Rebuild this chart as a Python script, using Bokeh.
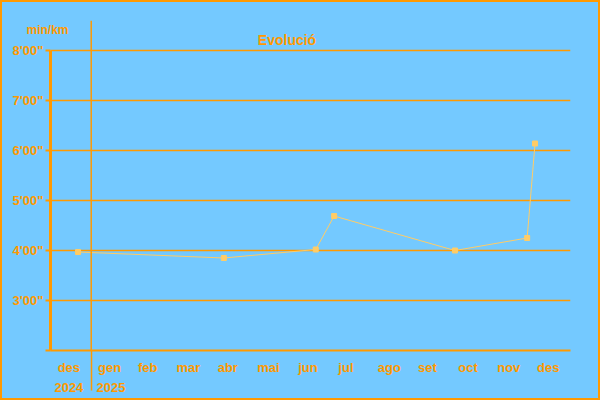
import pandas as pd
from bokeh.plotting import figure
from bokeh.models import (Range1d, FixedTicker, CustomJSTickFormatter, LinearAxis,
                          Span, Label, ColumnDataSource)
from bokeh.embed import file_html
from bokeh.resources import INLINE

# ---- data ----
run_dates = ["2024-12-22", "2025-04-12", "2025-06-21", "2025-07-05",
             "2025-10-05", "2025-11-29", "2025-12-05"]
pace_min_km = [3.97, 3.85, 4.02, 4.69, 4.00, 4.25, 6.14]

month_tick_dates = ["2024-12-15", "2025-01-15", "2025-02-13", "2025-03-16",
                    "2025-04-15", "2025-05-16", "2025-06-15", "2025-07-14",
                    "2025-08-16", "2025-09-14", "2025-10-15", "2025-11-15",
                    "2025-12-15"]
month_labels = ["des", "gen", "feb", "mar", "abr", "mai", "jun", "jul",
                "ago", "set", "oct", "nov", "des"]
year_tick_dates = ["2024-12-15", "2025-01-16"]
year_labels = ["2024", "2025"]
year_boundary = "2025-01-01"
x_start, x_end = "2024-12-01", "2026-01-01"

y_ticks = [2, 3, 4, 5, 6, 7, 8]
y_labels = ["", "3'00\"", "4'00\"", "5'00\"", "6'00\"", "7'00\"", "8'00\""]

title_text = "Evolució"
unit_text = "min/km"
unit_pos = [8.41]

# ---- style ----
BLUE = "#74C9FF"
ORANGE = "#FF9900"
LIGHT = "#FFCC66"
FONT = "Liberation Sans"


def ms(d):
    return pd.Timestamp(d).value / 1e6


src = ColumnDataSource(dict(date=[pd.Timestamp(d) for d in run_dates], pace=pace_min_km))

p = figure(width=600, height=400, x_axis_type="datetime",
           x_range=Range1d(ms(x_start), ms(x_end)), y_range=Range1d(2, 8.6),
           output_backend="svg", toolbar_location=None,
           min_border_left=50, min_border_right=30, min_border_top=20, min_border_bottom=50,
           background_fill_color=None, border_fill_color=None, outline_line_color=None,
           styles={"background-color": BLUE, "outline": "2px solid " + ORANGE, "outline-offset": "-2px"})

JS = "const i = pos.indexOf(tick); return i < 0 ? '' : labels[i];"

# x axis (months)
xa = p.xaxis[0]
xa.ticker = FixedTicker(ticks=[ms(d) for d in month_tick_dates], minor_ticks=[ms(year_boundary)])
xa.formatter = CustomJSTickFormatter(args=dict(pos=[ms(d) for d in month_tick_dates], labels=month_labels), code=JS)
xa.axis_line_color = ORANGE
xa.axis_line_width = 2
xa.major_tick_line_color = None
xa.major_tick_out = 0
xa.major_tick_in = 0
xa.minor_tick_line_color = ORANGE
xa.minor_tick_line_width = 1.5
xa.minor_tick_out = 40
xa.minor_tick_in = 0
xa.major_label_standoff = -31
xa.major_label_text_color = ORANGE
xa.major_label_text_font = FONT
xa.major_label_text_font_style = "bold"
xa.major_label_text_font_size = "13px"

# second axis (years)
ya_years = LinearAxis(ticker=FixedTicker(ticks=[ms(d) for d in year_tick_dates]),
                      formatter=CustomJSTickFormatter(args=dict(pos=[ms(d) for d in year_tick_dates], labels=year_labels), code=JS),
                      axis_line_color=None, major_tick_line_color=None, minor_tick_line_color=None,
                      major_tick_out=0, major_tick_in=0, major_label_standoff=5,
                      major_label_text_color=ORANGE, major_label_text_font=FONT,
                      major_label_text_font_style="bold", major_label_text_font_size="13px")
p.add_layout(ya_years, "below")

# y axis
ya = p.yaxis[0]
ya.ticker = FixedTicker(ticks=y_ticks)
ya.formatter = CustomJSTickFormatter(args=dict(pos=y_ticks, labels=y_labels), code=JS)
ya.bounds = (2, 8)
ya.axis_line_color = ORANGE
ya.axis_line_width = 3
ya.major_tick_line_color = ORANGE
ya.major_tick_line_width = 2
ya.major_tick_out = 5
ya.major_tick_in = 0
ya.minor_tick_line_color = None
ya.major_label_standoff = 2
ya.major_label_text_color = ORANGE
ya.major_label_text_font = FONT
ya.major_label_text_font_style = "bold"
ya.major_label_text_font_size = "13px"

# unit caption as an extra (line-less) left axis
unit_axis = LinearAxis(ticker=FixedTicker(ticks=unit_pos),
                       formatter=CustomJSTickFormatter(args=dict(pos=unit_pos, labels=[unit_text]), code=JS),
                       axis_line_color=None, major_tick_line_color=None, minor_tick_line_color=None,
                       major_tick_out=0, major_tick_in=0, major_label_standoff=-59,
                       major_label_text_color=ORANGE, major_label_text_font=FONT,
                       major_label_text_font_style="bold", major_label_text_font_size="12px")
p.add_layout(unit_axis, "left")

p.ygrid.grid_line_color = ORANGE
p.ygrid.grid_line_width = 1.5
p.xgrid.grid_line_color = None

p.add_layout(Span(location=ms(year_boundary), dimension="height", line_color=ORANGE, line_width=1.5))

p.line(x="date", y="pace", source=src, line_color=LIGHT, line_width=1)
p.scatter(x="date", y="pace", source=src, marker="square", size=5, fill_color=LIGHT, line_color=LIGHT)

p.add_layout(Label(x=236.5, y=311, x_units="screen", y_units="screen", text=title_text,
                   text_align="center", text_baseline="alphabetic", text_font=FONT,
                   text_font_style="bold", text_font_size="14px", text_color=ORANGE))

open("out.html", "w").write(file_html(p, INLINE))
